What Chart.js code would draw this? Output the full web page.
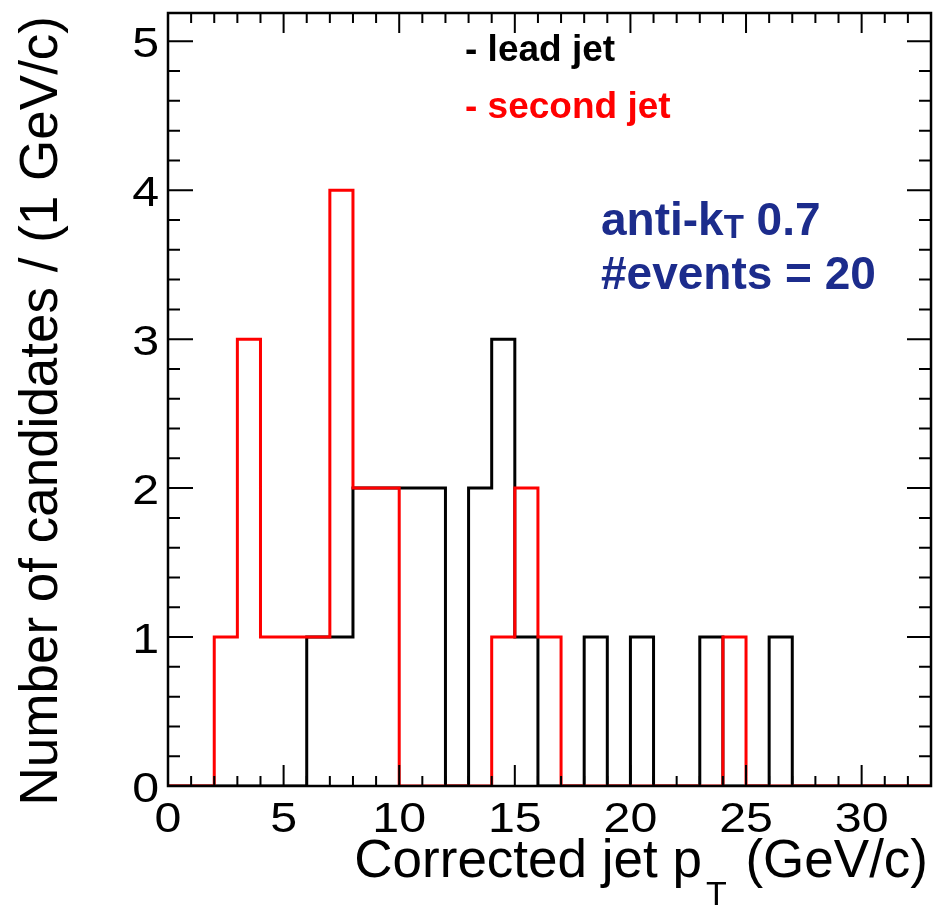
<!DOCTYPE html>
<html>
<head>
<meta charset="utf-8">
<script src="https://cdn.jsdelivr.net/npm/chart.js@4.4.1/dist/chart.umd.min.js"></script>
<style>
  html, body { margin: 0; padding: 0; background: #ffffff; }
  #chart { display: block; }
</style>
</head>
<body>
<canvas id="chart" width="933" height="906"></canvas>
<script>
// 1 GeV/c bins, low edges
const binLow = [0, 1, 2, 3, 4, 5, 6, 7, 8, 9, 10, 11, 12, 13, 14, 15, 16,
                17, 18, 19, 20, 21, 22, 23, 24, 25, 26, 27, 28, 29, 30, 31, 32];
const binHigh = 33;
const leadJet   = [0, 0, 0, 0, 0, 0, 1, 1, 2, 2, 2, 2, 0, 2, 3, 1, 0,
                   0, 1, 0, 1, 0, 0, 1, 0, 0, 1, 0, 0, 0, 0, 0, 0];
const secondJet = [0, 0, 1, 3, 1, 1, 1, 4, 2, 2, 0, 0, 0, 0, 1, 2, 1,
                   0, 0, 0, 0, 0, 0, 0, 1, 0, 0, 0, 0, 0, 0, 0, 0];
const xTicks = [0, 5, 10, 15, 20, 25, 30];
const yTicks = [0, 1, 2, 3, 4, 5];
const legendLabels = ['- lead jet', '- second jet'];
const xTitle = ['Corrected jet p', 'T', ' (GeV/c)'];
const yTitle = 'Number of candidates / (1 GeV/c)';
const algoLabel = ['anti-k', 'T', ' 0.7'];
const eventsLabel = '#events = 20';

const FONT = '"Liberation Sans", Arial, Helvetica, sans-serif';

function toPoints(values) {
    let pts = binLow.map((x, i) => ({x: x, y: values[i]}));
    pts.push({x: binHigh, y: values[values.length - 1]});
    return pts;
}

// digits in the original are a bit wider than Liberation's
function wideText(ctx, txt, px, py, align) {
    const sx = 1.15;
    ctx.save();
    ctx.translate(px, py);
    ctx.scale(sx, 1);
    ctx.textAlign = align;
    ctx.fillText(txt, 0, 0);
    ctx.restore();
}

// ROOT-like frame, inner ticks and all text
const rootFrame = {
    id: 'rootFrame',
    afterDraw(chart) {
        const ctx = chart.ctx;
        const a = chart.chartArea;
        const x = chart.scales.x;
        const y = chart.scales.y;
        ctx.save();
        ctx.strokeStyle = '#000000';
        ctx.lineWidth = 2;
        ctx.beginPath();
        for (let v = x.min; v <= x.max; v++) {
            const px = x.getPixelForValue(v);
            const big = v % 5 === 0;
            ctx.moveTo(px, a.bottom);
            ctx.lineTo(px, a.bottom - (big ? 21 : 10));
            ctx.moveTo(px, a.top);
            ctx.lineTo(px, a.top + (big ? 20 : 10));
        }
        for (let k = 0; k * 0.2 <= y.max; k++) {
            const py = y.getPixelForValue(k * 0.2);
            const big = k % 5 === 0;
            ctx.moveTo(a.left, py);
            ctx.lineTo(a.left + (big ? 25 : 12), py);
            ctx.moveTo(a.right, py);
            ctx.lineTo(a.right - (big ? 24 : 12), py);
        }
        ctx.stroke();

        ctx.lineWidth = 2.5;
        ctx.strokeRect(a.left, a.top, a.right - a.left, a.bottom - a.top);

        // tick labels
        ctx.fillStyle = '#000000';
        ctx.font = '42px ' + FONT;
        ctx.textBaseline = 'alphabetic';
        xTicks.forEach(v => {
            wideText(ctx, String(v), x.getPixelForValue(v), a.bottom + 46, 'center');
        });
        yTicks.forEach(v => {
            wideText(ctx, String(v), a.left - 9, y.getPixelForValue(v) + 16, 'right');
        });

        // x title with subscript
        ctx.font = '53px ' + FONT;
        ctx.textAlign = 'left';
        const tail = ctx.measureText(xTitle[2]).width;
        const tailX = a.right - 3 - tail;
        ctx.fillText(xTitle[2], tailX, a.bottom + 91);
        ctx.font = '34px ' + FONT;
        const subW = ctx.measureText(xTitle[1]).width;
        const subX = tailX - subW - 4;
        ctx.fillText(xTitle[1], subX, a.bottom + 119);
        ctx.font = '53px ' + FONT;
        ctx.textAlign = 'right';
        ctx.fillText(xTitle[0], subX - 4, a.bottom + 91);

        // y title, rotated
        ctx.save();
        ctx.translate(57, a.top + 3);
        ctx.rotate(-Math.PI / 2);
        ctx.textAlign = 'right';
        ctx.font = '53px ' + FONT;
        ctx.fillText(yTitle, 0, 0);
        ctx.restore();

        // legend-like labels
        ctx.textAlign = 'left';
        ctx.font = 'bold 37px ' + FONT;
        ctx.fillStyle = '#000000';
        ctx.fillText(legendLabels[0], 465, 61);
        ctx.fillStyle = '#ff0000';
        ctx.fillText(legendLabels[1], 465, 118);

        // algorithm info
        ctx.fillStyle = '#1c2c8c';
        ctx.font = 'bold 46px ' + FONT;
        let cx = 601;
        ctx.fillText(algoLabel[0], cx, 235);
        cx += ctx.measureText(algoLabel[0]).width;
        ctx.font = 'bold 33px ' + FONT;
        ctx.fillText(algoLabel[1], cx, 238);
        cx += ctx.measureText(algoLabel[1]).width;
        ctx.font = 'bold 46px ' + FONT;
        ctx.fillText(algoLabel[2], cx, 235);
        ctx.fillText(eventsLabel, 601, 289);
        ctx.restore();
    }
};

new Chart(document.getElementById('chart'), {
    type: 'line',
    data: {
        datasets: [{
            label: 'second jet',
            data: toPoints(secondJet),
            borderColor: '#ff0000',
            borderWidth: 3,
            stepped: 'before',
            pointRadius: 0,
            fill: false,
            order: 0
        }, {
            label: 'lead jet',
            data: toPoints(leadJet),
            borderColor: '#000000',
            borderWidth: 3,
            stepped: 'before',
            pointRadius: 0,
            fill: false,
            order: 1
        }]
    },
    options: {
        responsive: false,
        animation: false,
        devicePixelRatio: 1,
        layout: {
            padding: {left: 168, top: 13, right: 2, bottom: 120}
        },
        plugins: {
            legend: {display: false},
            tooltip: {enabled: false}
        },
        scales: {
            x: {type: 'linear', min: 0, max: 33, display: false},
            y: {type: 'linear', min: 0, max: 5.19, display: false}
        }
    },
    plugins: [rootFrame]
});
</script>
</body>
</html>
